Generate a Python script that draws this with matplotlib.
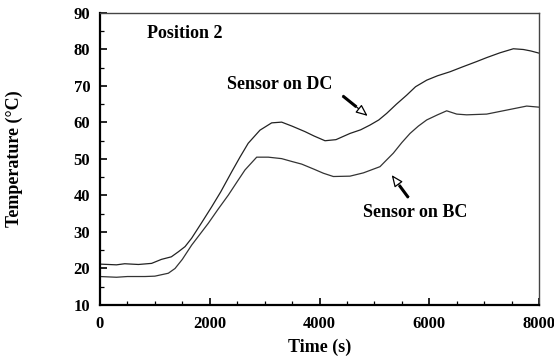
import matplotlib
matplotlib.use('Agg')
import matplotlib.pyplot as plt
from matplotlib.ticker import MultipleLocator
import numpy as np

# Temperature records at position 2
time_dc = [0, 300, 450, 700, 940, 1120, 1300, 1430, 1550, 1670, 1850, 2035, 2200, 2400,
           2550, 2700, 2915, 3128, 3310, 3500, 3735, 3900, 4100, 4300, 4555, 4750, 4920,
           5080, 5224, 5400, 5589, 5750, 5953, 6150, 6378, 6600, 6864, 7050, 7289, 7532,
           7714, 7850, 8000]
temp_dc = [21.2, 21.0, 21.3, 21.1, 21.4, 22.5, 23.2, 24.6, 26.0, 28.3, 32.5, 36.9, 41.0, 46.5,
           50.5, 54.3, 57.9, 59.9, 60.1, 59.0, 57.5, 56.3, 55.0, 55.3, 57.0, 58.0, 59.3,
           60.7, 62.5, 65.0, 67.5, 69.8, 71.6, 72.8, 73.9, 75.2, 76.7, 77.8, 79.1, 80.2,
           80.0, 79.6, 79.0]

time_bc = [0, 300, 500, 820, 1000, 1245, 1367, 1500, 1670, 1974, 2150, 2338, 2500, 2642,
           2855, 3067, 3310, 3500, 3675, 3900, 4070, 4252, 4555, 4800, 5102, 5200, 5345,
           5500, 5649, 5800, 5953, 6150, 6317, 6500, 6681, 7046, 7411, 7775, 8000]
temp_bc = [17.8, 17.6, 17.8, 17.8, 17.9, 18.7, 20.0, 22.5, 26.4, 32.4, 36.2, 40.1, 43.8, 47.0,
           50.5, 50.5, 50.1, 49.3, 48.6, 47.2, 46.1, 45.2, 45.3, 46.2, 47.9, 49.4, 51.6,
           54.5, 57.0, 59.0, 60.7, 62.1, 63.2, 62.3, 62.1, 62.3, 63.4, 64.5, 64.2]

plt.rcParams['font.family'] = 'Liberation Serif'
plt.rcParams['font.weight'] = 'bold'
FS = 13

fig = plt.figure(figsize=(5.54, 3.6), dpi=100)
ax = fig.add_axes([0.1805, 0.1528, 0.7925, 0.8111])

ax.plot(time_dc, temp_dc, color='#222222', lw=0.9)
ax.plot(time_bc, temp_bc, color='#333333', lw=0.9)

ax.set_xlim(0, 8000)
ax.set_ylim(10, 90)
ax.xaxis.set_major_locator(MultipleLocator(2000))
ax.xaxis.set_minor_locator(MultipleLocator(500))
ax.yaxis.set_major_locator(MultipleLocator(10))
ax.yaxis.set_minor_locator(MultipleLocator(5))
ax.tick_params(which='both', direction='in', top=False, right=False, labelsize=12)
ax.tick_params(which='major', length=5, width=1.2)
ax.tick_params(which='minor', length=3, width=0.9)
ax.tick_params(axis='x', pad=8)
ax.tick_params(axis='y', pad=7)
for sp in ['left', 'bottom']:
    ax.spines[sp].set_linewidth(1.6)
for sp in ['top', 'right']:
    ax.spines[sp].set_linewidth(1.0)
    ax.spines[sp].set_color('#444444')

ax.set_xlabel('Time (s)', fontsize=FS, fontweight='bold')
ax.set_ylabel('Temperature (\u00b0C)', fontsize=FS, fontweight='bold')
ax.xaxis.set_label_coords(0.5, -0.144)
ax.yaxis.set_label_coords(-0.194, 0.5)
ax.xaxis.label.set_va('center')
ax.yaxis.label.set_va('center')

ax.text(850, 84.5, 'Position 2', fontsize=FS, fontweight='bold', va='center', ha='left')
ax.text(3280, 70.3, 'Sensor on DC', fontsize=FS, fontweight='bold', va='center', ha='center')
ax.text(5750, 35.3, 'Sensor on BC', fontsize=FS, fontweight='bold', va='center', ha='center')


def pointer(tail, head):
    # thick shaft plus hollow head
    tail = np.array(tail, float)
    head = np.array(head, float)
    mid = tail + 0.55 * (head - tail)
    ax.annotate('', xy=head, xytext=tail,
                arrowprops=dict(arrowstyle='-|>,head_length=0.7,head_width=0.3',
                                fc='white', ec='black', lw=0.9, shrinkA=0, shrinkB=0))
    ax.plot([tail[0], mid[0]], [tail[1], mid[1]], color='black', lw=2.2,
            solid_capstyle='butt')


pointer((4422, 67.3), (4877, 61.8))
pointer((5620, 39.4), (5315, 45.6))

fig.savefig('out.png', dpi=100)
